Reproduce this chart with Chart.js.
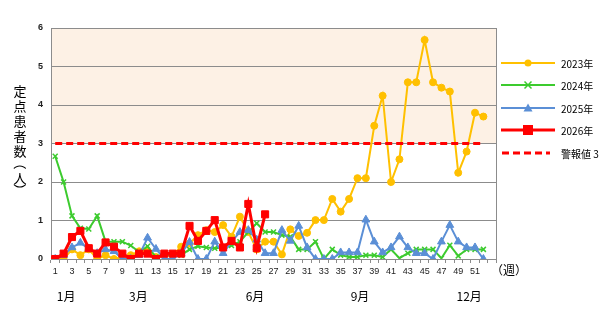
<!DOCTYPE html>
<html>
<head>
<meta charset="utf-8">
<script src="https://cdn.jsdelivr.net/npm/chart.js@4.4.0/dist/chart.umd.min.js"></script>
<style>
  html, body { margin: 0; padding: 0; background: #fff; }
</style>
</head>
<body>
<canvas id="chart" width="607" height="312"></canvas>
<script>
/* =========================================
   1. DATA
   ========================================= */
// 週 1..52 (+ 空の53番目の枠)
const weekLabels = ['1','2','3','4','5','6','7','8','9','10','11','12','13','14','15','16','17','18','19','20',
    '21','22','23','24','25','26','27','28','29','30','31','32','33','34','35','36','37','38','39','40',
    '41','42','43','44','45','46','47','48','49','50','51','52',''];

const y2023 = [0, 0, 0.25, 0.1, 0.25, 0, 0.1, 0, 0.05, 0.1, 0.2, 0.2, 0.05, 0.1, 0.1, 0.32, 0.4, 0.62, 0.75, 0.7,
    0.88, 0.58, 1.1, 0.7, 0.25, 0.45, 0.45, 0.12, 0.77, 0.6, 0.68, 1.01, 1.01, 1.56, 1.23, 1.56, 2.1, 2.1, 3.46, 4.24,
    2.0, 2.59, 4.59, 4.59, 5.69, 4.59, 4.45, 4.35, 2.24, 2.79, 3.8, 3.7];

const y2024 = [2.67, 2.0, 1.12, 0.8, 0.78, 1.12, 0.45, 0.45, 0.45, 0.35, 0.18, 0.33, 0.05, 0.1, 0.1, 0.1, 0.25, 0.33, 0.3, 0.28,
    0.3, 0.35, 0.45, 0.7, 0.93, 0.7, 0.7, 0.62, 0.58, 0.25, 0.25, 0.45, 0, 0.25, 0.1, 0.05, 0.05, 0.1, 0.1, 0.05,
    0.25, 0.02, 0.15, 0.25, 0.25, 0.25, 0.02, 0.36, 0.08, 0.25, 0.25, 0.25];

const y2025 = [0, 0.1, 0.3, 0.42, 0.27, 0.15, 0.25, 0.2, 0, 0, 0.1, 0.55, 0.26, 0, 0, 0.15, 0.44, 0, 0, 0.45,
    0.15, 0.45, 0.7, 0.75, 0.5, 0.15, 0.15, 0.75, 0.47, 0.86, 0.3, 0, 0, 0, 0.17, 0.17, 0.17, 1.02, 0.45, 0.17,
    0.3, 0.58, 0.3, 0.15, 0.15, 0, 0.45, 0.88, 0.45, 0.3, 0.3, 0];

const y2026 = [0, 0.14, 0.57, 0.73, 0.28, 0.14, 0.43, 0.32, 0.14, 0, 0.14, 0.14, 0, 0.14, 0.14, 0.14, 0.86, 0.47, 0.73, 1.01,
    0.3, 0.47, 0.3, 1.43, 0.28, 1.16];

const alertLevel = [3, 3, 3, 3, 3, 3, 3, 3, 3, 3, 3, 3, 3, 3, 3, 3, 3, 3, 3, 3, 3, 3, 3, 3, 3, 3,
    3, 3, 3, 3, 3, 3, 3, 3, 3, 3, 3, 3, 3, 3, 3, 3, 3, 3, 3, 3, 3, 3, 3, 3, 3, 3];

const yTicks = [0, 1, 2, 3, 4, 5, 6];
const monthLabels = ['1月', '3月', '6月', '9月', '12月'];
const monthWeeks = [2.3, 10.9, 24.8, 37.3, 50.3];

const seriesNames = ['2023年', '2024年', '2025年', '2026年', '警報値 3'];

/* =========================================
   2. STYLES
   ========================================= */
const NUM_FONT = '"Liberation Sans", Arial, sans-serif';
const JP_FONT = '"Noto Sans CJK JP", "Noto Sans", sans-serif';
const GRID = '#8c8c8c';

const styles = [
    { color: '#FFC000', width: 2, marker: 'circle', r: 3.5 },
    { color: '#3CCB2E', width: 2, marker: 'cross', r: 3.5 },
    { color: '#5B8FD6', width: 2, marker: 'triangle', r: 4.5 },
    { color: '#FF0000', width: 3, marker: 'rect', r: 5 },
    { color: '#FF0000', width: 3, marker: null, dash: [7, 4] }
];

function drawMarker(ctx, kind, x, y, r, color) {
    ctx.save();
    ctx.fillStyle = color;
    ctx.strokeStyle = color;
    ctx.lineWidth = 1.5;
    ctx.setLineDash([]);
    ctx.beginPath();
    if (kind === 'circle') {
        ctx.arc(x, y, r, 0, Math.PI * 2);
        ctx.fill();
    } else if (kind === 'rect') {
        ctx.fillRect(x - r, y - r, r * 2, r * 2);
    } else if (kind === 'triangle') {
        ctx.moveTo(x, y - r);
        ctx.lineTo(x + r, y + r * 0.8);
        ctx.lineTo(x - r, y + r * 0.8);
        ctx.closePath();
        ctx.fill();
    } else if (kind === 'cross') {
        ctx.moveTo(x - r, y - r); ctx.lineTo(x + r, y + r);
        ctx.moveTo(x + r, y - r); ctx.lineTo(x - r, y + r);
        ctx.stroke();
    }
    ctx.restore();
}

/* =========================================
   3. PLUGINS (背景・軸タイトル・凡例)
   ========================================= */
const decorPlugin = {
    id: 'decor',
    beforeDraw(chart) {
        const { ctx, chartArea: a, scales: { y } } = chart;
        // 警報値より上を薄いオレンジで塗る
        ctx.save();
        ctx.fillStyle = '#FDF1E5';
        const top = y.getPixelForValue(6);
        const mid = y.getPixelForValue(3);
        ctx.fillRect(a.left, top, a.right - a.left, mid - top);
        ctx.restore();
    },
    afterDraw(chart) {
        const { ctx, chartArea: a, scales: { x } } = chart;
        ctx.save();
        // 右枠線
        ctx.strokeStyle = GRID;
        ctx.lineWidth = 1;
        ctx.beginPath();
        ctx.moveTo(a.right + 0.5, a.top);
        ctx.lineTo(a.right + 0.5, a.bottom);
        ctx.stroke();

        // 縦書きの軸タイトル
        ctx.fillStyle = '#000';
        ctx.font = '13px ' + JP_FONT;
        ctx.textAlign = 'center';
        ctx.textBaseline = 'middle';
        const title = ['定', '点', '患', '者', '数', '（', '人', '）'];
        const ty = [91, 106, 121, 136, 151, 163, 178, 190];
        title.forEach((ch, i) => {
            if (ch === '（' || ch === '）') {
                ctx.save();
                ctx.translate(20, ty[i]);
                ctx.rotate(Math.PI / 2);
                ctx.fillText(ch, 0, 0);
                ctx.restore();
            } else {
                ctx.fillText(ch, 20, ty[i]);
            }
        });

        // 月ラベル
        const step = x.getPixelForValue(1) - x.getPixelForValue(0);
        const x0 = x.getPixelForValue(0);
        ctx.font = '12px ' + JP_FONT;
        monthLabels.forEach((m, i) => {
            ctx.fillText(m, x0 + (monthWeeks[i] - 1) * step, 296);
        });

        // (週)
        ctx.font = '12px ' + JP_FONT;
        ctx.fillText('（週）', 509, 270);

        // 凡例
        const rows = [63, 85, 108, 130, 153];
        ctx.textAlign = 'left';
        ctx.font = '10px ' + JP_FONT;
        seriesNames.forEach((name, i) => {
            const s = styles[i];
            ctx.save();
            ctx.strokeStyle = s.color;
            ctx.lineWidth = s.width;
            ctx.setLineDash(s.dash || []);
            ctx.beginPath();
            ctx.moveTo(s.dash ? 502 : 501, rows[i]);
            ctx.lineTo(s.dash ? 550 : 555, rows[i]);
            ctx.stroke();
            ctx.restore();
            if (s.marker) drawMarker(ctx, s.marker, 528, rows[i], s.r, s.color);
            ctx.fillStyle = '#000';
            ctx.fillText(name, 561, rows[i] + 1);
        });
        ctx.restore();
    }
};

/* =========================================
   4. CHART
   ========================================= */
const seriesData = [y2023, y2024, y2025, y2026, alertLevel];

const datasets = seriesData.map((d, i) => {
    const s = styles[i];
    return {
        label: seriesNames[i],
        data: d,
        borderColor: s.color,
        backgroundColor: s.color,
        borderWidth: s.width,
        borderDash: s.dash || [],
        pointStyle: s.marker === 'cross' ? 'crossRot' : (s.marker || false),
        pointRadius: s.marker ? s.r : 0,
        pointBorderWidth: s.marker === 'cross' ? 1.5 : 1,
        pointHoverRadius: s.marker ? s.r : 0,
        tension: 0,
        fill: false,
        order: i === 3 ? 0 : (i === 4 ? 1 : 5 - i)
    };
});

new Chart(document.getElementById('chart'), {
    type: 'line',
    data: { labels: weekLabels, datasets: datasets },
    options: {
        responsive: false,
        animation: false,
        events: [],
        layout: { padding: { left: 0, right: 111, top: 28, bottom: 0 } },
        plugins: { legend: { display: false }, tooltip: { enabled: false } },
        scales: {
            x: {
                type: 'category',
                offset: true,
                afterFit: (s) => { s.height = 53; },
                grid: { offset: true, drawOnChartArea: false, drawTicks: true, tickLength: 4, color: GRID },
                border: { display: true, color: GRID },
                ticks: {
                    autoSkip: false,
                    maxRotation: 0,
                    padding: 3,
                    color: '#222',
                    font: { family: NUM_FONT, size: 9 },
                    callback: (v, i) => (i % 2 === 0 ? weekLabels[i] : '')
                }
            },
            y: {
                min: yTicks[0],
                max: yTicks[yTicks.length - 1],
                afterFit: (s) => { s.width = 51; },
                afterBuildTicks: (s) => { s.ticks = yTicks.map(v => ({ value: v })); },
                grid: { color: GRID, drawTicks: false },
                border: { display: true, color: GRID },
                ticks: {
                    padding: 8,
                    color: '#222',
                    font: { family: NUM_FONT, size: 9, weight: 'bold' }
                }
            }
        }
    },
    plugins: [decorPlugin]
});
</script>
</body>
</html>
